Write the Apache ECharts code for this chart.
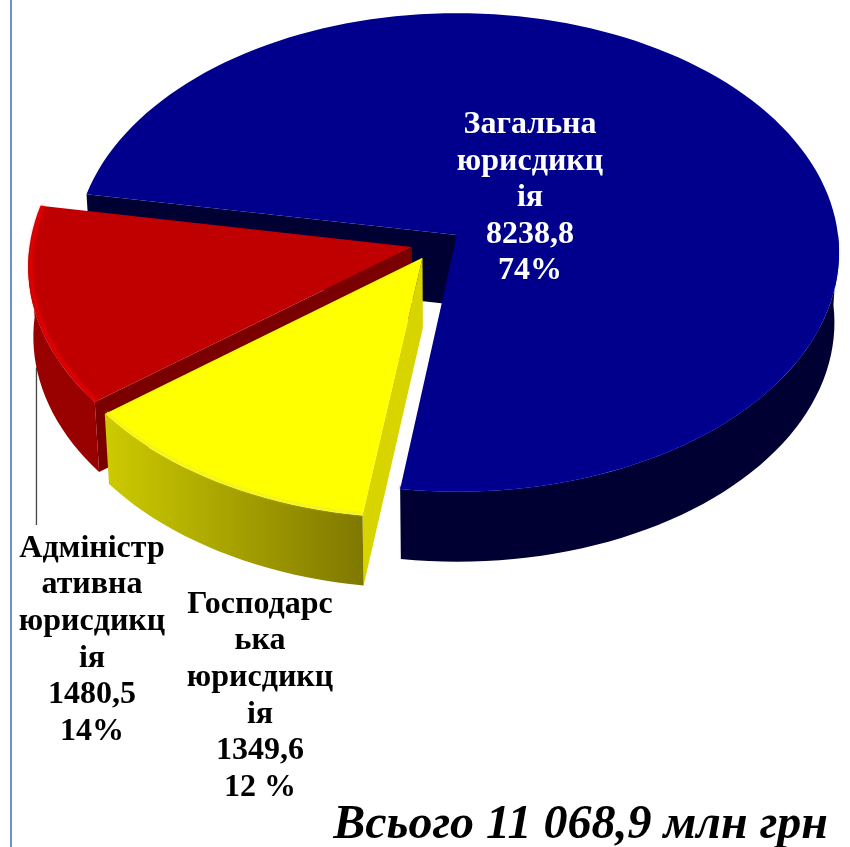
<!DOCTYPE html>
<html>
<head>
<meta charset="utf-8">
<style>
    html, body { margin: 0; padding: 0; background: #fff; }
    #chart { width: 850px; height: 847px; }
</style>
<script src="https://cdn.jsdelivr.net/npm/echarts@6/dist/echarts.min.js"></script>
</head>
<body>
<div id="chart"></div>
<script>
// значення з діаграми
const categories = [
    ['Загальна', 'юрисдикц', 'ія'],
    ['Господарс', 'ька', 'юрисдикц', 'ія'],
    ['Адміністр', 'ативна', 'юрисдикц', 'ія']
];
const values = [8238.8, 1349.6, 1480.5];
const percents = ['74%', '12 %', '14%'];
const totalText = 'Всього 11 068,9 млн грн';

// вигляд
const topColors = ['#00008c', '#ffff00', '#c00000'];
const rimColors = ['#000096', '#f4f420', '#de0000'];
const faceColors = ['#000033', '#d8d400', '#7a0000'];
const sideColors = [
    '#000033',
    new echarts.graphic.LinearGradient(0, 0, 1, 0, [
        { offset: 0, color: '#cdcb00' },
        { offset: 1, color: '#7f7800' }
    ]),
    '#990000'
];
const explode = [[0, 0], [-0.09, 0.095], [-0.118, 0.05]];
const labelPos = [[530, 198, '#fff'], [260, 696, '#000'], [92, 640, '#000']];
const zBase = [10, 30, 20]; // синій знизу, жовтий зверху

const START = 280, CX = 457, CY = 235, RX = 381, RY = 238, PERSP = 0.073, DEPTH = 70, LOW_SCALE = 0.988;
const total = values.reduce((a, b) => a + b, 0);

// нижня площина трохи вужча за верхню
const proj = (u, v, h) => {
    const k = 1 / (1 - PERSP * v);
    const sx = 1 - (1 - LOW_SCALE) * h / DEPTH;
    return [CX + RX * u * k * sx, CY + RY * v * k + h];
};

// точка на дузі сектора, кут за годинниковою стрілкою від 12 годин
const arcPoint = (i, deg, h, r = 1) => {
    const a = deg * Math.PI / 180;
    return proj(explode[i][0] + r * Math.sin(a), explode[i][1] - r * Math.cos(a), h);
};

const arcPoints = (i, from, to, h, r) => {
    const pts = [];
    const n = Math.max(2, Math.ceil((to - from) / 2));
    for (let s = 0; s <= n; s++) pts.push(arcPoint(i, from + (to - from) * s / n, h, r));
    return pts;
};

const sliceAngles = i => {
    const before = values.slice(0, i).reduce((a, b) => a + b, 0);
    return [START + before / total * 360, START + (before + values[i]) / total * 360];
};

const renderSlice = (params, api) => {
    const i = params.dataIndex;
    const [start, end] = sliceAngles(i);
    const apex = proj(explode[i][0], explode[i][1], 0);
    const apexLow = proj(explode[i][0], explode[i][1], DEPTH);
    const z = zBase[i];
    const children = [];

    // грань по початковому радіусу
    children.push({
        type: 'polygon', z2: z,
        shape: { points: [apex, arcPoint(i, start, 0), arcPoint(i, start, DEPTH), apexLow] },
        style: { fill: faceColors[i] }
    });

    // зовнішня бокова поверхня, лише передня половина
    const shift = start > 270 ? 360 : 0;
    const from = Math.max(start, 90 + shift), to = Math.min(end, 270 + shift);
    if (to > from) {
        children.push({
            type: 'polygon', z2: z + 1,
            shape: { points: arcPoints(i, from, to, 0).concat(arcPoints(i, from, to, DEPTH).reverse()) },
            style: { fill: sideColors[i] }
        });
    }

    // верх
    children.push({
        type: 'polygon', z2: z + 2,
        shape: { points: [apex].concat(arcPoints(i, start, end, 0)) },
        style: { fill: topColors[i] }
    });
    if (to > from || i === 2) {
        children.push({
            type: 'polyline', z2: z + 3,
            shape: { points: arcPoints(i, i === 2 ? start : from, i === 2 ? end : to, 0, 0.993) },
            style: { fill: null, stroke: rimColors[i], lineWidth: i === 2 ? 3 : 2, shadowBlur: 3, shadowColor: rimColors[i] }
        });
    }

    // виноска адміністративної юрисдикції
    if (i === 2) {
        const p = arcPoint(i, 258, DEPTH);
        children.push({
            type: 'line', z2: 5,
            shape: { x1: p[0], y1: p[1], x2: p[0], y2: labelPos[i][1] - 115 },
            style: { stroke: '#444', lineWidth: 1.3 }
        });
    }

    // підпис
    const lines = categories[i].concat([String(values[i]).replace('.', ','), percents[i]]);
    children.push({
        type: 'text', z2: 60,
        x: labelPos[i][0], y: labelPos[i][1],
        style: {
            text: lines.join('\n'),
            fill: labelPos[i][2],
            font: 'bold 32px "Liberation Serif"',
            lineHeight: 36.6,
            align: 'center',
            verticalAlign: 'middle'
        }
    });

    return { type: 'group', children };
};

const chart = echarts.init(document.getElementById('chart'));
chart.setOption({
    animation: false,
    backgroundColor: '#fff',
    title: {
        text: totalText,
        right: 22,
        top: 802,
        padding: 0,
        textStyle: {
            fontFamily: 'Liberation Serif',
            fontStyle: 'italic',
            fontWeight: 'bold',
            fontSize: 48,
            color: '#000'
        }
    },
    graphic: [{
        type: 'rect',
        shape: { x: 10, y: 0, width: 2, height: 847 },
        style: { fill: '#6a8fd8' }
    }],
    series: [{
        type: 'custom',
        coordinateSystem: 'none',
        silent: true,
        data: values,
        renderItem: renderSlice
    }]
});
</script>
</body>
</html>
